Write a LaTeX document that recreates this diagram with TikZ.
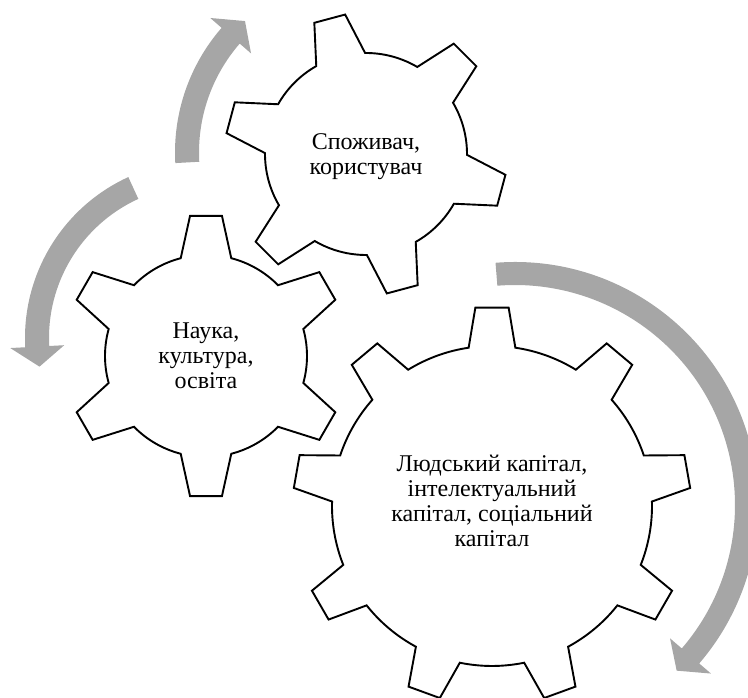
\documentclass[tikz,border=0pt]{standalone}
\usepackage{fontspec}
\setmainfont{Liberation Serif}
\definecolor{arrowgray}{RGB}{166,166,166}
\tikzset{
  gearline/.style={draw=black, line width=1.9pt, fill=white, line join=miter},
  arrowband/.style={fill=arrowgray, draw=none},
  geartext/.style={align=center, font=\fontsize{24}{25}\selectfont, text=black, inner sep=0pt}
}
% #1 cx, #2 cy, #3 tip radius, #4 root radius, #5 teeth, #6 first tooth angle, #7 tip half-angle, #8 base half-angle
\newcommand{\drawgear}[8]{%
  \pgfmathsetmacro{\gstep}{360/#5}%
  \draw[gearline, shift={(#1,#2)}] ({#6-#8}:#4)
    \foreach \k in {1,...,#5} {
      -- ({#6+(\k-1)*\gstep-#7}:#3)
      -- ({#6+(\k-1)*\gstep+#7}:#3)
      -- ({#6+(\k-1)*\gstep+#8}:#4)
      arc[start angle={#6+(\k-1)*\gstep+#8}, end angle={#6+\k*\gstep-#8}, radius=#4pt]
    } -- cycle;
}
% #1 cx, #2 cy, #3 inner r, #4 outer r, #5 tail angle, #6 head base angle, #7 tip angle, #8 head half width
\newcommand{\drawcircarrow}[8]{%
  \fill[arrowband, shift={(#1,#2)}] (#5:#4)
    arc[start angle=#5, end angle=#6, radius=#4pt]
    -- (#6:{(#3+#4)/2+#8})
    -- (#7:{(#3+#4)/2})
    -- (#6:{(#3+#4)/2-#8})
    -- (#6:#3)
    arc[start angle=#6, end angle=#5, radius=#3pt] -- cycle;
}
\begin{document}
\begin{tikzpicture}[x=1pt, y=1pt]
\useasboundingbox (0,0) rectangle (748,698);
\begin{scope}
\clip (0,0) rectangle (748,698);
% circular arrows
\drawcircarrow{365}{545.5}{166}{190}{183.2}{139}{132.4}{27}
\drawcircarrow{202}{360}{153}{177}{114.6}{183}{190}{27}
\drawcircarrow{515}{193}{220}{243}{94.6}{-40.7}{-45.7}{27}
\end{scope}
% gears
\drawgear{366}{544}{141}{101}{6}{105}{6.5}{14.5}
\drawgear{206}{342}{141}{101}{6}{90}{6.5}{14.5}
\drawgear{492}{192}{199}{160}{9}{90}{4.8}{8.4}
% labels
\node[geartext] (consumer) at (366,541) {Споживач,\\користувач};
\node[geartext] (science) at (206,342) {Наука,\\культура,\\освіта};
\node[geartext] (capital) at (492,197) {Людський капітал,\\інтелектуальний\\капітал, соціальний\\капітал};
\end{tikzpicture}
\end{document}
